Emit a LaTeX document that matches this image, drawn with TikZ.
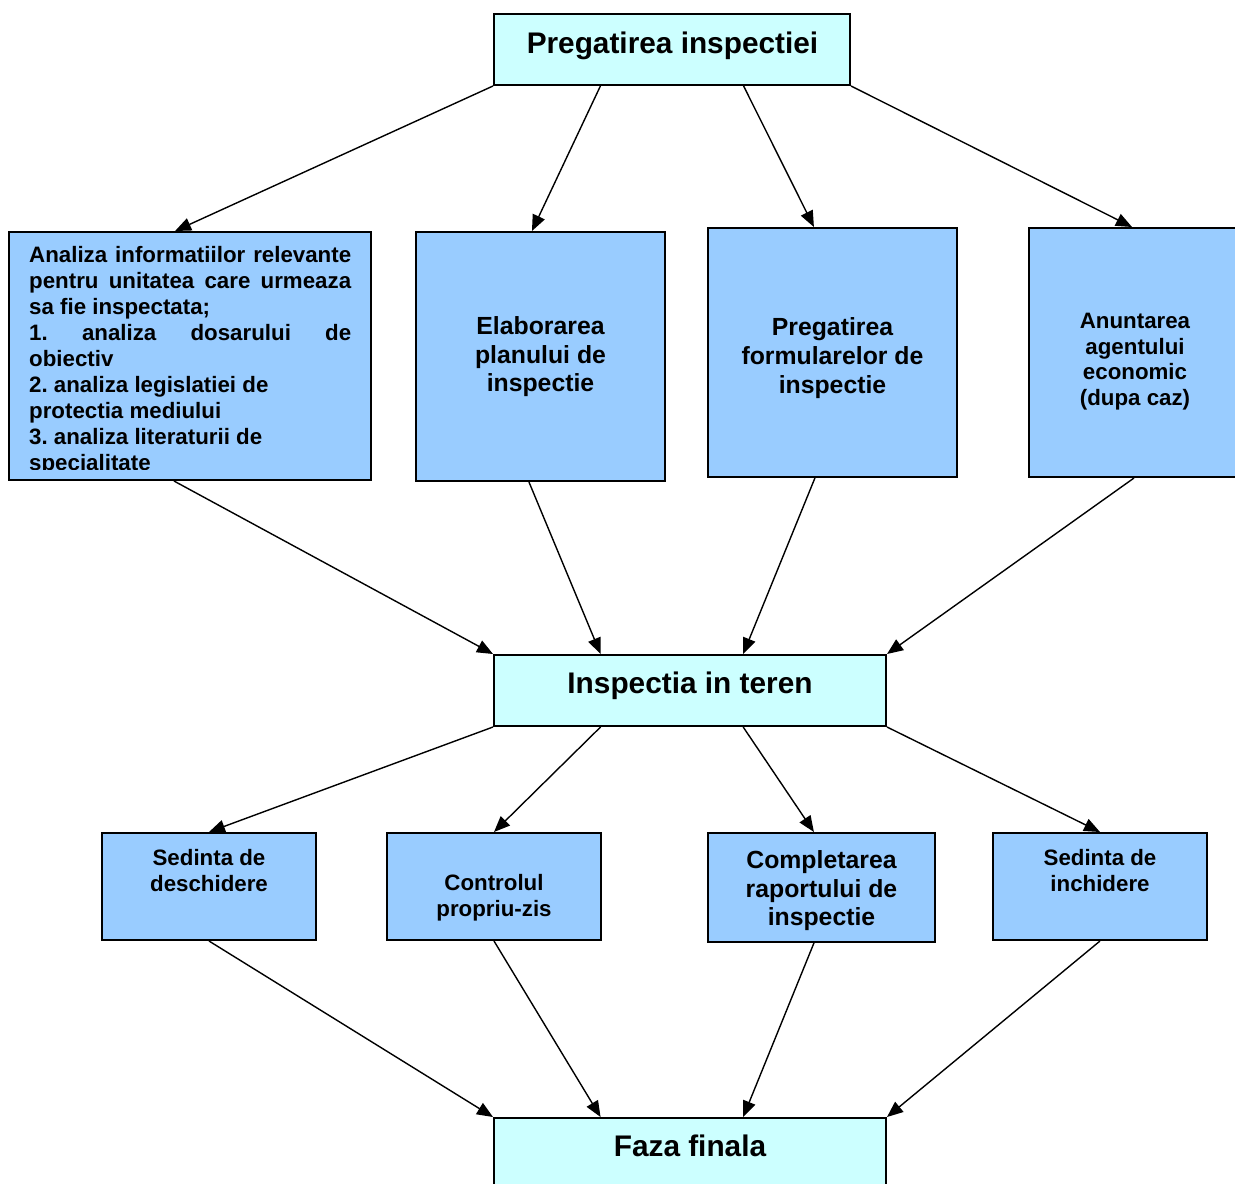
\documentclass[tikz,border=0pt]{standalone}
\usepackage{fontspec}
\setmainfont{Liberation Sans}
\usetikzlibrary{arrows.meta,calc}
\definecolor{lightcyanbox}{HTML}{CCFFFF}
\definecolor{bluebox}{HTML}{99CCFF}
\frenchspacing
\begin{document}
\begin{tikzpicture}[x=1pt,y=-1pt,
  boxc/.style={draw=black, line width=2pt, fill=lightcyanbox, inner sep=0pt},
  boxb/.style={draw=black, line width=2pt, fill=bluebox, inner sep=0pt},
  txtL/.style={font=\fontsize{29.8}{34}\selectfont\bfseries, inner sep=0pt},
  txtM/.style={font=\fontsize{24.8}{28.7}\selectfont\bfseries, align=center, inner sep=0pt},
  txtS/.style={font=\fontsize{22.3}{25.8}\selectfont\bfseries, align=center, inner sep=0pt},
  arr/.style={line width=1.4pt, -{Triangle[length=16pt,width=13pt]}}
]
\useasboundingbox (0,0) rectangle (1235,1184);
\clip (0,0) rectangle (1235,1184);
\fill[white] (0,0) rectangle (1235,1184);

% boxes
\node[boxc, minimum width=356pt, minimum height=71pt] (top) at (672,49.5) {};
\node[boxb, minimum width=362pt, minimum height=248pt] (b1) at (190,356) {};
\node[boxb, minimum width=249pt, minimum height=249pt] (b2) at (540.5,356.5) {};
\node[boxb, minimum width=249pt, minimum height=249pt] (b3) at (832.5,352.5) {};
\node[boxb, minimum width=249pt, minimum height=249pt] (b4) at (1153.5,352.5) {};
\node[boxc, minimum width=392pt, minimum height=71pt] (mid) at (690,690.5) {};
\node[boxb, minimum width=214pt, minimum height=107pt] (ra) at (209,886.5) {};
\node[boxb, minimum width=214pt, minimum height=107pt] (rb) at (494,886.5) {};
\node[boxb, minimum width=227pt, minimum height=109pt] (rc) at (821.5,887.5) {};
\node[boxb, minimum width=214pt, minimum height=107pt] (rd) at (1100,886.5) {};
\node[boxc, minimum width=392pt, minimum height=71pt] (fin) at (690,1153.5) {};

% texts
\node[txtL] (ttop) at (672.5,45.7) {Pregatirea inspectiei};
\begin{scope}
\clip (9,232) rectangle (371,469);
\node[inner sep=0pt, align=left, anchor=north west,
      font=\fontsize{22.3}{26}\selectfont\bfseries] (t1) at (29,246.5)
  {\makebox[322pt][s]{Analiza informatiilor relevante}\\
   \makebox[322pt][s]{pentru unitatea care urmeaza}\\
   sa fie inspectata;\\
   \makebox[322pt][s]{1. analiza dosarului de}\\
   obiectiv\\
   2. analiza legislatiei de\\
   protectia mediului\\
   3. analiza literaturii de\\
   specialitate};
\end{scope}
\node[txtM] (t2) at (540.5,356.7) {Elaborarea\\planului de\\inspectie};
\node[txtM] (t3) at (832.5,358) {Pregatirea\\formularelor de\\inspectie};
\node[txtS] (t4) at (1135,361.7) {Anuntarea\\agentului\\economic\\(dupa caz)};
\node[txtL] (tmid) at (690,686) {Inspectia in teren};
\node[txtS] (ta) at (209,870.3) {Sedinta de\\deschidere};
\node[txtS] (tb) at (494,897.8) {Controlul\\propriu-zis};
\node[txtM] (tc) at (821.5,890.8) {Completarea\\raportului de\\inspectie};
\node[txtS] (td) at (1100,870.3) {Sedinta de\\inchidere};
\node[txtL] (tfin) at (690,1146.3) {Faza finala};

% arrows top -> row 2
\draw[arr] (top.south west) -- ($(b1.north west)!0.459!(b1.north east)$);
\draw[arr] ($(top.south west)!0.3!(top.south east)$) -- ($(b2.north west)!0.466!(b2.north east)$);
\draw[arr] ($(top.south west)!0.7!(top.south east)$) -- ($(b3.north west)!0.426!(b3.north east)$);
\draw[arr] (top.south east) -- ([xshift=104pt]b4.north west);
% row 2 -> middle
\draw[arr] ($(b1.south west)!0.456!(b1.south east)$) -- (mid.north west);
\draw[arr] ($(b2.south west)!0.454!(b2.south east)$) -- ($(mid.north west)!0.273!(mid.north east)$);
\draw[arr] ($(b3.south west)!0.43!(b3.south east)$) -- ($(mid.north west)!0.635!(mid.north east)$);
\draw[arr] ([xshift=106pt]b4.south west) -- (mid.north east);
% middle -> row 3
\draw[arr] (mid.south west) -- (ra.north);
\draw[arr] ($(mid.south west)!0.273!(mid.south east)$) -- (rb.north);
\draw[arr] ($(mid.south west)!0.635!(mid.south east)$) -- ($(rc.north west)!0.467!(rc.north east)$);
\draw[arr] (mid.south east) -- (rd.north);
% row 3 -> final
\draw[arr] (ra.south) -- (fin.north west);
\draw[arr] (rb.south) -- ($(fin.north west)!0.273!(fin.north east)$);
\draw[arr] ($(rc.south west)!0.467!(rc.south east)$) -- ($(fin.north west)!0.635!(fin.north east)$);
\draw[arr] (rd.south) -- (fin.north east);
\end{tikzpicture}
\end{document}
